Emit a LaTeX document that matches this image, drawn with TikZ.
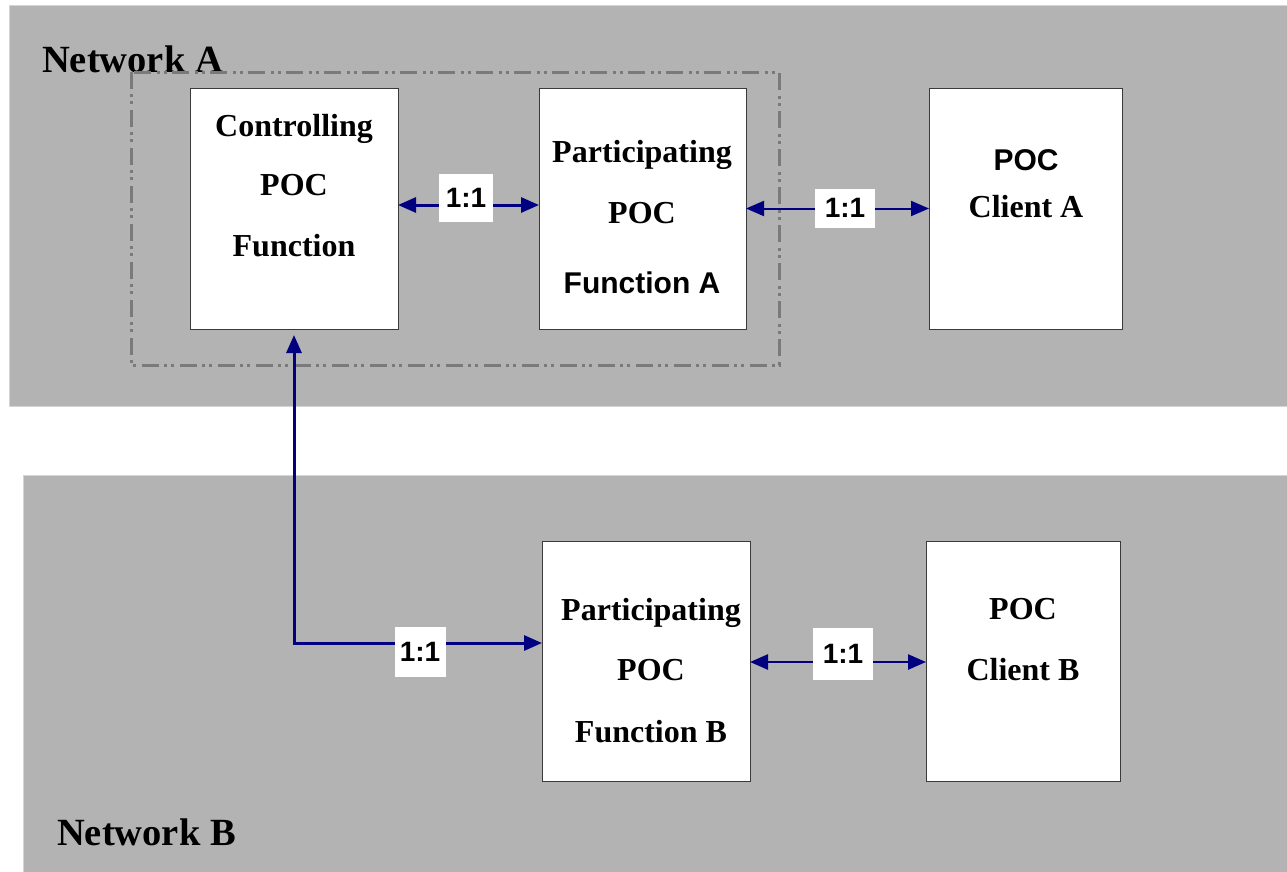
\documentclass[tikz,border=0pt]{standalone}
\usepackage{fontspec}
\setmainfont{Liberation Serif}
\newfontfamily\arialfont{Liberation Sans}
\usetikzlibrary{arrows.meta}
\definecolor{netgrey}{HTML}{B3B3B3}
\definecolor{netedge}{HTML}{D4D4D4}
\definecolor{navyline}{HTML}{000080}
\definecolor{dashgrey}{HTML}{7A7A7A}
\definecolor{boxedge}{HTML}{3A3A3A}
\tikzset{
  netbox/.style={fill=netgrey, draw=netedge, line width=1pt, anchor=north west, inner sep=0pt, outer sep=0pt},
  funcbox/.style={fill=white, draw=boxedge, line width=1pt, anchor=north west, inner sep=0pt, outer sep=0pt},
  serifbig/.style={font=\bfseries\fontsize{32}{32}\selectfont, anchor=base, inner sep=0pt},
  sansbig/.style={font=\arialfont\bfseries\fontsize{30}{30}\selectfont, anchor=base, inner sep=0pt},
  netlabel/.style={font=\bfseries\fontsize{38.5}{38.5}\selectfont, anchor=base west, inner sep=0pt},
  ratio/.style={fill=white, font=\arialfont\bfseries\fontsize{28}{28}\selectfont, inner sep=0pt},
  tipA/.tip={Triangle[length=18pt,width=15pt]},
  link/.style={draw=navyline, line width=2.5pt, tipA-tipA},
  dashdotline/.style={draw=dashgrey, line width=3pt, dash pattern=on 17pt off 5pt on 3pt off 4pt on 3pt off 6pt},
}
\begin{document}
\begin{tikzpicture}[x=1pt,y=-1pt]
\useasboundingbox (0,0) rectangle (1287,871);
% networks
\node[netbox, minimum width=1280pt, minimum height=401pt] (netA) at (9,5) {};
\node[netbox, minimum width=1266pt, minimum height=398pt] (netB) at (23,475) {};
\node[netlabel] (netAlab) at (42,72) {Network A};
\node[netlabel] (netBlab) at (57,845) {Network B};
% dash-dot grouping
\draw[dashdotline] (131,72) rectangle (779,365);
% function boxes
\node[funcbox, minimum width=208pt, minimum height=241pt] (ctrl) at (190,88) {};
\node[funcbox, minimum width=207pt, minimum height=241pt] (partA) at (539,88) {};
\node[funcbox, minimum width=193pt, minimum height=241pt] (cliA) at (929,88) {};
\node[funcbox, minimum width=208pt, minimum height=240pt] (partB) at (542,541) {};
\node[funcbox, minimum width=194pt, minimum height=240pt] (cliB) at (926,541) {};
% box texts
\node[serifbig] (ctrl1) at (294,136) {Controlling};
\node[serifbig] (ctrl2) at (294,195) {POC};
\node[serifbig] (ctrl3) at (294,256) {Function};
\node[serifbig] (pa1) at (642,162) {Participating};
\node[serifbig] (pa2) at (642,223) {POC};
\node[sansbig] (pa3) at (642,293) {Function A};
\node[sansbig] (ca1) at (1026,170) {POC};
\node[serifbig] (ca2) at (1026,217) {Client A};
\node[serifbig] (pb1) at (651,620) {Participating};
\node[serifbig] (pb2) at (651,680) {POC};
\node[serifbig] (pb3) at (651,742) {Function B};
\node[serifbig] (cb1) at (1023,619) {POC};
\node[serifbig] (cb2) at (1023,680) {Client B};
% connectors
\draw[link, line width=3pt] ([yshift=3.5pt]ctrl.east) -- ([yshift=3.5pt]partA.west);
\draw[link, line width=2pt] (partA.east) -- (cliA.west);
\draw[link, line width=3pt] ([yshift=-6pt]ctrl.south) |- ([yshift=18pt]partB.west);
\draw[link] ([yshift=-1pt]partB.east) -- ([yshift=-1pt]cliB.west);
% ratio labels
\node[ratio, minimum width=54pt, minimum height=48pt] (r1) at (466,198) {1:1};
\node[ratio, minimum width=60pt, minimum height=39pt] (r2) at (845,208) {\raisebox{-6pt}{1:1}};
\node[ratio, minimum width=51pt, minimum height=50pt] (r3) at (420,652) {1:1};
\node[ratio, minimum width=60pt, minimum height=52pt] (r4) at (843,654) {1:1};
\end{tikzpicture}
\end{document}
